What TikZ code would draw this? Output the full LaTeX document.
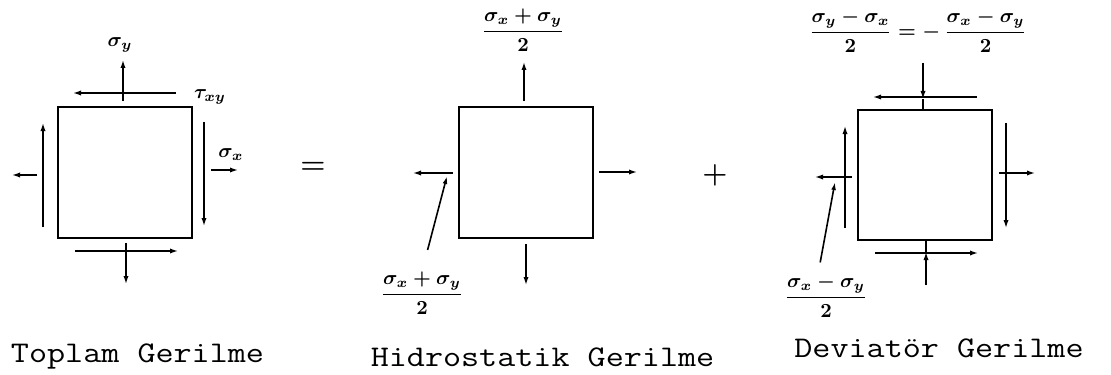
\documentclass[tikz,border=0pt]{standalone}
\usepackage{fontspec}
\usepackage{graphicx}
\usepackage{amsmath}
\usetikzlibrary{arrows.meta}
\newcommand{\capwide}[1]{\scalebox{1.17}[1]{#1}}
\tikzset{
  elem/.style={draw,line width=1pt,minimum width=67pt,minimum height=65.5pt,inner sep=0pt},
  force/.style={-{Latex[length=4pt,width=2.6pt]},line width=0.7pt},
  plain-line/.style={line width=0.7pt},
  lead/.style={-{Latex[length=4pt,width=2.4pt]},line width=0.8pt},
  lab/.style={font=\fontsize{10}{12}\selectfont\boldmath,inner sep=0pt},
  caption-text/.style={font=\fontsize{15}{18}\selectfont\ttfamily\addfontfeature{FakeBold=1.2},anchor=base,inner sep=0pt},
  op/.style={font=\fontsize{14}{16}\selectfont\boldmath,inner sep=0pt},
}

\begin{document}
\begin{tikzpicture}[x=0.5pt,y=-0.5pt]
  \useasboundingbox (0,0) rectangle (1111,374);

  % toplam gerilme
  \node[elem] (tot) at (125,172.5) {};
  \draw[force] (123,101) -- (123,60);
  \draw[force] (176,93) -- (73,93);
  \draw[force] (204,122) -- (204,226);
  \draw[force] (211,170) -- (238,170);
  \draw[force] (37,175) -- (12,175);
  \draw[force] (43,227) -- (43,123);
  \draw[force] (75,251) -- (178,251);
  \draw[force] (126,243) -- (126,284);
  \node[lab] (sy) at (120,45) {$\sigma_y$};
  \node[lab] (txy) at (210,97) {$\tau_{xy}$};
  \node[lab] (sx) at (231,155) {$\sigma_x$};

  \node[op] (eq) at (313,168) {$=$};

  % hidrostatik gerilme
  \node[elem] (hyd) at (526,172.5) {};
  \draw[force] (524,101) -- (524,62);
  \draw[force] (599,172) -- (637,172);
  \draw[force] (453,173) -- (413,173);
  \draw[force] (526,244) -- (526,285);
  \node[lab] (htop) at (523,30) {$\dfrac{\sigma_x+\sigma_y}{2}$};
  \node[lab] (hbot) at (422,293) {$\dfrac{\sigma_x+\sigma_y}{2}$};
  \coordinate (hend) at (447,176);
  \draw[lead,shorten <=11pt] (hbot.north) -- (hend);

  \node[op] (plus) at (715,175) {$+$};

  % deviatör gerilme
  \node[elem,minimum height=65pt] (dev) at (925,175) {};
  \draw[force] (923,63) -- (923,99);
  \draw[plain-line] (923,99) -- (dev.north -| 923,0);
  \draw[force] (977,97) -- (873,97);
  \draw[force] (926,285) -- (926,252);
  \draw[plain-line] (926,252) -- (dev.south -| 926,0);
  \draw[force] (875,253) -- (978,253);
  \draw[force] (845,228) -- (845,126);
  \draw[force] (852,177) -- (815,177);
  \draw[force] (1006,123) -- (1006,228);
  \draw[force] (999,173) -- (1035,173);
  \node[lab] (dtop) at (918,31) {$\dfrac{\sigma_y-\sigma_x}{2}=-\,\dfrac{\sigma_x-\sigma_y}{2}$};
  \node[lab] (dbot) at (826,296) {$\dfrac{\sigma_x-\sigma_y}{2}$};
  \coordinate (dend) at (835,182);
  \draw[lead,shorten <=6pt] ([xshift=-4pt]dbot.north) -- (dend);

  % alt yazilar
  \node[caption-text] (ctot) at (137.5,362) {\capwide{Toplam Gerilme}};
  \node[caption-text] (chyd) at (542.5,366) {\capwide{Hidrostatik Gerilme}};
  \node[caption-text] (cdev) at (939,357) {\capwide{Deviatör Gerilme}};
\end{tikzpicture}
\end{document}
